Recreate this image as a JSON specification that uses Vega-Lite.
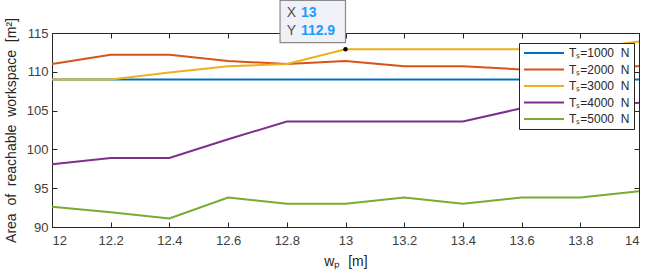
{
  "$schema": "https://vega.github.io/schema/vega-lite/v6.json",
  "width": 587,
  "height": 194,
  "autosize": {"type": "none"},
  "padding": {"left": 52, "top": 33, "right": 15, "bottom": 43},
  "background": "white",
  "config": {
    "view": {"stroke": "#262626", "strokeWidth": 1},
    "font": "Liberation Sans",
    "axis": {"grid": false, "domainColor": "#262626", "tickColor": "#262626", "labelColor": "#404040", "labelFont": "Liberation Sans", "labelFontSize": 13, "titleFont": "Liberation Sans", "titleFontSize": 14, "titleFontWeight": "normal", "titleColor": "#262626"}
  },
  "datasets": {
    "series": [
      {"wp": 12, "A": 109, "T": "Tₛ=1000\u00a0\u00a0N"},
      {"wp": 12.2, "A": 109, "T": "Tₛ=1000\u00a0\u00a0N"},
      {"wp": 12.4, "A": 109, "T": "Tₛ=1000\u00a0\u00a0N"},
      {"wp": 12.6, "A": 109, "T": "Tₛ=1000\u00a0\u00a0N"},
      {"wp": 12.8, "A": 109, "T": "Tₛ=1000\u00a0\u00a0N"},
      {"wp": 13, "A": 109, "T": "Tₛ=1000\u00a0\u00a0N"},
      {"wp": 13.2, "A": 109, "T": "Tₛ=1000\u00a0\u00a0N"},
      {"wp": 13.4, "A": 109, "T": "Tₛ=1000\u00a0\u00a0N"},
      {"wp": 13.6, "A": 109, "T": "Tₛ=1000\u00a0\u00a0N"},
      {"wp": 13.8, "A": 109, "T": "Tₛ=1000\u00a0\u00a0N"},
      {"wp": 14, "A": 109, "T": "Tₛ=1000\u00a0\u00a0N"},
      {"wp": 12, "A": 111.0, "T": "Tₛ=2000\u00a0\u00a0N"},
      {"wp": 12.2, "A": 112.2, "T": "Tₛ=2000\u00a0\u00a0N"},
      {"wp": 12.4, "A": 112.2, "T": "Tₛ=2000\u00a0\u00a0N"},
      {"wp": 12.6, "A": 111.4, "T": "Tₛ=2000\u00a0\u00a0N"},
      {"wp": 12.8, "A": 111.0, "T": "Tₛ=2000\u00a0\u00a0N"},
      {"wp": 13, "A": 111.4, "T": "Tₛ=2000\u00a0\u00a0N"},
      {"wp": 13.2, "A": 110.7, "T": "Tₛ=2000\u00a0\u00a0N"},
      {"wp": 13.4, "A": 110.7, "T": "Tₛ=2000\u00a0\u00a0N"},
      {"wp": 13.6, "A": 110.3, "T": "Tₛ=2000\u00a0\u00a0N"},
      {"wp": 13.8, "A": 110.7, "T": "Tₛ=2000\u00a0\u00a0N"},
      {"wp": 14, "A": 110.7, "T": "Tₛ=2000\u00a0\u00a0N"},
      {"wp": 12, "A": 109.0, "T": "Tₛ=3000\u00a0\u00a0N"},
      {"wp": 12.2, "A": 109.0, "T": "Tₛ=3000\u00a0\u00a0N"},
      {"wp": 12.4, "A": 109.9, "T": "Tₛ=3000\u00a0\u00a0N"},
      {"wp": 12.6, "A": 110.7, "T": "Tₛ=3000\u00a0\u00a0N"},
      {"wp": 12.8, "A": 111.0, "T": "Tₛ=3000\u00a0\u00a0N"},
      {"wp": 13, "A": 112.9, "T": "Tₛ=3000\u00a0\u00a0N"},
      {"wp": 13.2, "A": 112.9, "T": "Tₛ=3000\u00a0\u00a0N"},
      {"wp": 13.4, "A": 112.9, "T": "Tₛ=3000\u00a0\u00a0N"},
      {"wp": 13.6, "A": 112.9, "T": "Tₛ=3000\u00a0\u00a0N"},
      {"wp": 13.8, "A": 112.9, "T": "Tₛ=3000\u00a0\u00a0N"},
      {"wp": 14, "A": 113.9, "T": "Tₛ=3000\u00a0\u00a0N"},
      {"wp": 12, "A": 98.1, "T": "Tₛ=4000\u00a0\u00a0N"},
      {"wp": 12.2, "A": 98.9, "T": "Tₛ=4000\u00a0\u00a0N"},
      {"wp": 12.4, "A": 98.9, "T": "Tₛ=4000\u00a0\u00a0N"},
      {"wp": 12.6, "A": 101.3, "T": "Tₛ=4000\u00a0\u00a0N"},
      {"wp": 12.8, "A": 103.6, "T": "Tₛ=4000\u00a0\u00a0N"},
      {"wp": 13, "A": 103.6, "T": "Tₛ=4000\u00a0\u00a0N"},
      {"wp": 13.2, "A": 103.6, "T": "Tₛ=4000\u00a0\u00a0N"},
      {"wp": 13.4, "A": 103.6, "T": "Tₛ=4000\u00a0\u00a0N"},
      {"wp": 13.6, "A": 105.3, "T": "Tₛ=4000\u00a0\u00a0N"},
      {"wp": 13.8, "A": 105.3, "T": "Tₛ=4000\u00a0\u00a0N"},
      {"wp": 14, "A": 106.0, "T": "Tₛ=4000\u00a0\u00a0N"},
      {"wp": 12, "A": 92.6, "T": "Tₛ=5000\u00a0\u00a0N"},
      {"wp": 12.2, "A": 91.9, "T": "Tₛ=5000\u00a0\u00a0N"},
      {"wp": 12.4, "A": 91.1, "T": "Tₛ=5000\u00a0\u00a0N"},
      {"wp": 12.6, "A": 93.8, "T": "Tₛ=5000\u00a0\u00a0N"},
      {"wp": 12.8, "A": 93.0, "T": "Tₛ=5000\u00a0\u00a0N"},
      {"wp": 13, "A": 93.0, "T": "Tₛ=5000\u00a0\u00a0N"},
      {"wp": 13.2, "A": 93.8, "T": "Tₛ=5000\u00a0\u00a0N"},
      {"wp": 13.4, "A": 93.0, "T": "Tₛ=5000\u00a0\u00a0N"},
      {"wp": 13.6, "A": 93.8, "T": "Tₛ=5000\u00a0\u00a0N"},
      {"wp": 13.8, "A": 93.8, "T": "Tₛ=5000\u00a0\u00a0N"},
      {"wp": 14, "A": 94.6, "T": "Tₛ=5000\u00a0\u00a0N"}
    ],
    "tip": [{"bx": 12.777, "bx2": 13.0, "by": 113.75, "by2": 119.2, "px": 13, "py": 112.9}],
    "tiplabels": [
      {"lx": 12.80, "vx": 12.848, "ly": 117.55, "k": "X", "v": "13"},
      {"lx": 12.80, "vx": 12.848, "ly": 115.3, "k": "Y", "v": "112.9"}
    ]
  },
  "resolve": {"axis": {"x": "independent", "y": "independent"}},
  "layer": [
    {
      "data": {"name": "series"},
      "mark": {"type": "line", "strokeWidth": 2, "clip": true},
      "encoding": {
        "x": {"field": "wp", "type": "quantitative", "scale": {"domain": [12, 14], "nice": false, "zero": false},
              "axis": {"orient": "bottom", "values": [12, 12.2, 12.4, 12.6, 12.8, 13, 13.2, 13.4, 13.6, 13.8, 14], "format": "~g", "tickSize": -5, "labelPadding": 12, "title": "wₚ\u00a0\u00a0[m]", "titlePadding": 7}},
        "y": {"field": "A", "type": "quantitative", "scale": {"domain": [90, 115], "nice": false, "zero": false},
              "axis": {"orient": "left", "values": [90, 95, 100, 105, 110, 115], "tickSize": -5, "labelPadding": 9, "title": "Area\u00a0 of\u00a0 reachable\u00a0 workspace\u00a0 [m²]", "titlePadding": 8}},
        "color": {"field": "T", "type": "nominal",
                  "scale": {"range": ["#0072BD", "#D95319", "#EDB120", "#7E2F8E", "#77AC30"]},
                  "legend": {"title": null, "orient": "none", "legendX": 467, "legendY": 10, "symbolType": "M-1,0L7,0", "symbolSize": 100, "symbolStrokeWidth": 2, "labelFont": "Liberation Sans", "labelFontSize": 12, "labelColor": "#262626", "rowPadding": 4.5, "fillColor": "white", "strokeColor": "#262626", "padding": 4, "labelOffset": 34}}
      }
    },
    {
      "data": {"name": "series"},
      "mark": {"type": "point", "opacity": 0},
      "encoding": {
        "x": {"field": "wp", "type": "quantitative", "scale": {"domain": [12, 14], "nice": false, "zero": false},
              "axis": {"orient": "top", "values": [12, 12.2, 12.4, 12.6, 12.8, 13, 13.2, 13.4, 13.6, 13.8, 14], "tickSize": -5, "labels": false, "title": null}},
        "y": {"field": "A", "type": "quantitative", "scale": {"domain": [90, 115], "nice": false, "zero": false},
              "axis": {"orient": "right", "values": [90, 95, 100, 105, 110, 115], "tickSize": -5, "labels": false, "title": null}}
      }
    },
    {
      "data": {"name": "tip"},
      "mark": {"type": "rect", "fill": "#f0f1f6", "stroke": "#8a8a8a", "strokeWidth": 1.2, "fillOpacity": 1, "strokeOpacity": 1},
      "encoding": {
        "x": {"field": "bx", "type": "quantitative", "axis": null},
        "x2": {"field": "bx2"},
        "y": {"field": "by", "type": "quantitative", "axis": null},
        "y2": {"field": "by2"}
      }
    },
    {
      "data": {"name": "tip"},
      "mark": {"type": "point", "filled": true, "color": "#000000", "size": 20, "opacity": 1},
      "encoding": {
        "x": {"field": "px", "type": "quantitative", "axis": null},
        "y": {"field": "py", "type": "quantitative", "axis": null}
      }
    },
    {
      "data": {"name": "tiplabels"},
      "mark": {"type": "text", "align": "left", "baseline": "middle", "fontSize": 14, "color": "#505050", "font": "Liberation Sans", "clip": false},
      "encoding": {
        "x": {"field": "lx", "type": "quantitative", "axis": null},
        "y": {"field": "ly", "type": "quantitative", "axis": null},
        "text": {"field": "k"}
      }
    },
    {
      "data": {"name": "tiplabels"},
      "mark": {"type": "text", "align": "left", "baseline": "middle", "fontSize": 14, "fontWeight": "bold", "color": "#1a9cff", "font": "Liberation Sans", "clip": false},
      "encoding": {
        "x": {"field": "vx", "type": "quantitative", "axis": null},
        "y": {"field": "ly", "type": "quantitative", "axis": null},
        "text": {"field": "v"}
      }
    }
  ]
}
